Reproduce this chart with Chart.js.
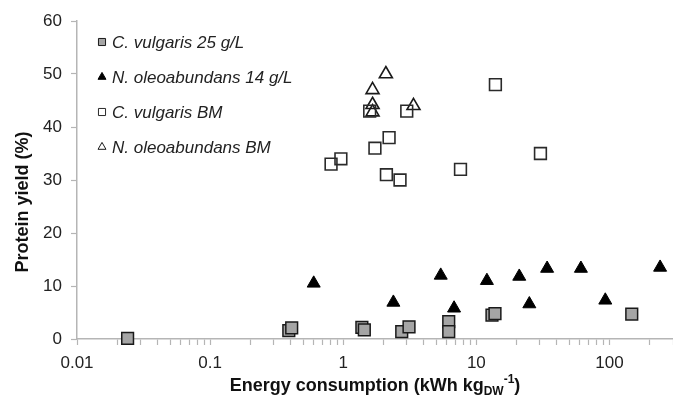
<!DOCTYPE html>
<html>
<head>
<meta charset="utf-8">
<script src="https://cdn.jsdelivr.net/npm/chart.js@4"></script>
<style>
  html, body { margin: 0; padding: 0; background: #fff; }
  #wrap { width: 673px; height: 397px; position: relative; }
</style>
</head>
<body>
<div id="wrap"><canvas id="chart"></canvas></div>
<script>
// valores (x = kWh/kg, y = %)
const cv25X = [0.024, 0.39, 0.41, 1.38, 1.44, 2.75, 3.12, 6.2, 6.2, 13.1, 13.8, 147];
const cv25Y = [0.1, 1.6, 2.1, 2.2, 1.7, 1.4, 2.3, 3.3, 1.4, 4.5, 4.8, 4.7];
const no14X = [0.6, 2.38, 5.4, 6.8, 12, 21, 25, 34, 61, 93, 240];
const no14Y = [10.5, 6.9, 12, 5.8, 11, 11.8, 6.6, 13.3, 13.3, 7.3, 13.5];
const cvBMX = [0.81, 0.96, 1.58, 1.73, 2.11, 2.21, 2.67, 3.0, 7.6, 13.9, 30.3];
const cvBMY = [33, 34, 43, 36, 31, 38, 30, 43, 32, 48, 35];
const noBMX = [1.66, 1.66, 1.66, 2.09, 3.37];
const noBMY = [42.8, 44.2, 47, 50, 44];

const seriesLabels = ['C. vulgaris 25 g/L', 'N. oleoabundans 14 g/L', 'C. vulgaris BM', 'N. oleoabundans BM'];
const xTickLabels = ['0.01', '0.1', '1', '10', '100'];
const yTicks = [0, 10, 20, 30, 40, 50, 60];

function pts(xs, ys) {
  return xs.map((x, i) => ({ x: x, y: ys[i] }));
}

const FONT = "'Liberation Sans', Arial, sans-serif";

// legenda dentro da área do gráfico
const insideLegend = {
  id: 'insideLegend',
  afterDraw(chart) {
    const ctx = chart.ctx;
    const area = chart.chartArea;
    ctx.save();
    chart.data.datasets.forEach((ds, i) => {
      const y = area.top + 21 + i * 35;
      const x = area.left + 25;
      ctx.fillStyle = ds.backgroundColor;
      ctx.strokeStyle = ds.borderColor;
      ctx.lineWidth = 1;
      Chart.helpers.drawPoint(ctx, {
        pointStyle: ds.pointStyle,
        radius: ds.pointStyle === 'rect' ? 5 : 4.6,
        borderWidth: 1,
        rotation: 0
      }, x, y);
      ctx.fillStyle = '#222';
      ctx.font = 'italic 17px ' + FONT;
      ctx.textAlign = 'left';
      ctx.textBaseline = 'middle';
      ctx.fillText(ds.label, area.left + 35, y + 1);
    });
    ctx.restore();
  }
};

// títulos dos eixos (com subscrito e sobrescrito)
const axisTitles = {
  id: 'axisTitles',
  afterDraw(chart) {
    const ctx = chart.ctx;
    ctx.save();
    ctx.fillStyle = '#111';
    ctx.textBaseline = 'alphabetic';

    const parts = [
      { t: 'Energy consumption (kWh kg', f: 'bold 18px ', dy: 0 },
      { t: 'DW', f: 'bold 12px ', dy: 4 },
      { t: '-1', f: 'bold 12px ', dy: -8 },
      { t: ')', f: 'bold 18px ', dy: 0 }
    ];
    let total = 0;
    parts.forEach(p => { ctx.font = p.f + FONT; p.w = ctx.measureText(p.t).width; total += p.w; });
    let x = 375 - total / 2;
    const base = 391;
    ctx.textAlign = 'left';
    parts.forEach(p => {
      ctx.font = p.f + FONT;
      ctx.fillText(p.t, x, base + p.dy);
      x += p.w;
    });

    ctx.translate(23, 202);
    ctx.rotate(-Math.PI / 2);
    ctx.font = 'bold 18px ' + FONT;
    ctx.textAlign = 'center';
    ctx.textBaseline = 'middle';
    ctx.fillText('Protein yield (%)', 0, 0);
    ctx.restore();
  }
};

const ctx = document.getElementById('chart').getContext('2d');

new Chart(ctx, {
  type: 'scatter',
  data: {
    datasets: [
      {
        label: seriesLabels[0],
        data: pts(cv25X, cv25Y),
        pointStyle: 'rect',
        backgroundColor: '#a5a5a5',
        borderColor: '#1a1a1a',
        pointRadius: 8.3,
        pointBorderWidth: 1.5
      },
      {
        label: seriesLabels[1],
        data: pts(no14X, no14Y),
        pointStyle: 'triangle',
        backgroundColor: '#000000',
        borderColor: '#000000',
        pointRadius: 7.5,
        pointBorderWidth: 1
      },
      {
        label: seriesLabels[2],
        data: pts(cvBMX, cvBMY),
        pointStyle: 'rect',
        backgroundColor: 'rgba(255,255,255,0)',
        borderColor: '#2a2a2a',
        pointRadius: 8.3,
        pointBorderWidth: 1.6
      },
      {
        label: seriesLabels[3],
        data: pts(noBMX, noBMY),
        pointStyle: 'triangle',
        backgroundColor: 'rgba(255,255,255,0)',
        borderColor: '#1a1a1a',
        pointRadius: 7.5,
        pointBorderWidth: 1.6
      }
    ]
  },
  options: {
    responsive: true,
    maintainAspectRatio: false,
    animation: false,
    clip: false,
    layout: { autoPadding: false, padding: { left: 0, top: 21, right: 0, bottom: 0 } },
    plugins: {
      legend: { display: false },
      tooltip: { enabled: false }
    },
    scales: {
      x: {
        type: 'logarithmic',
        min: 0.01,
        max: 300,
        afterBuildTicks(scale) {
          // marcas maiores e menores em cada década
          const t = [];
          for (let e = -2; e <= 2; e++) {
            for (let m = 1; m <= 9; m++) {
              const v = m * Math.pow(10, e);
              if (v <= 300.0001) t.push({ value: v, major: m === 1 });
            }
          }
          scale.ticks = t;
        },
        afterFit(scale) {
          scale.height = 58;
          scale.paddingRight = 0;
          scale.paddingLeft = 0;
        },
        ticks: {
          autoSkip: false,
          maxRotation: 0,
          padding: 8,
          color: '#222',
          font: { family: FONT, size: 17 },
          callback: function (value) {
            const k = Math.round(Math.log10(value));
            if (Math.abs(value - Math.pow(10, k)) < 1e-9) {
              return xTickLabels[k + 2];
            }
            return '';
          }
        },
        grid: {
          drawOnChartArea: false,
          drawTicks: true,
          tickLength: 6,
          tickColor: '#b5b5b5',
          tickWidth: 1.2
        },
        border: { display: true, color: '#b5b5b5', width: 1.5 },
        title: { display: false }
      },
      y: {
        min: 0,
        max: 60,
        afterBuildTicks(scale) {
          scale.ticks = yTicks.map(v => ({ value: v }));
        },
        afterFit(scale) { scale.width = 77; },
        ticks: {
          padding: 9,
          color: '#222',
          font: { family: FONT, size: 17 }
        },
        grid: {
          drawOnChartArea: false,
          drawTicks: true,
          tickLength: 6,
          tickColor: '#b5b5b5',
          tickWidth: 1.2
        },
        border: { display: true, color: '#b5b5b5', width: 1.5 },
        title: { display: false }
      }
    }
  },
  plugins: [insideLegend, axisTitles]
});
</script>
</body>
</html>
